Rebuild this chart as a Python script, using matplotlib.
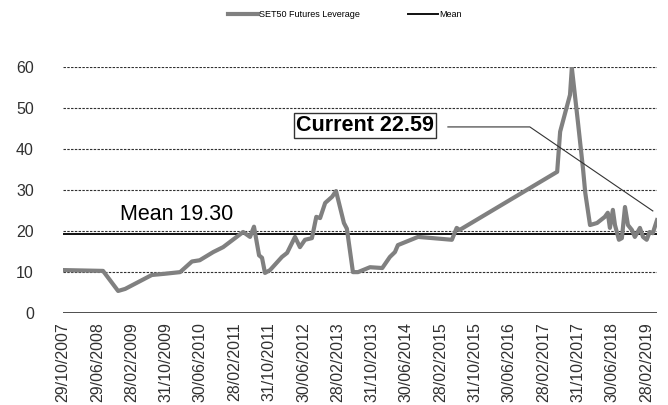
import matplotlib
matplotlib.use("Agg")
import matplotlib.pyplot as plt
import matplotlib.dates as mdates
import pandas as pd

plt.rcParams['font.family'] = ['Liberation Sans', 'DejaVu Sans']

dates = [
    "2007-10-29", "2008-08-08", "2008-11-23", "2009-01-12", "2009-07-20", "2009-10-20",
    "2010-02-06", "2010-05-01", "2010-06-25", "2010-09-29", "2010-12-08", "2011-04-29",
    "2011-06-17", "2011-07-15", "2011-08-20", "2011-09-10", "2011-10-01", "2011-11-06",
    "2012-01-29", "2012-03-06", "2012-05-01", "2012-06-05", "2012-07-11", "2012-08-29",
    "2012-09-29", "2012-10-26", "2012-12-01", "2013-01-19", "2013-02-16", "2013-04-13",
    "2013-05-04", "2013-06-16", "2013-07-22", "2013-10-15", "2014-01-10", "2014-03-05",
    "2014-04-10", "2014-05-01", "2014-09-21", "2015-01-04", "2015-05-19", "2015-06-22",
    "2015-07-13", "2017-06-04", "2017-06-25", "2017-09-03", "2017-09-16", "2017-10-29",
    "2017-12-05", "2017-12-20", "2018-01-23", "2018-03-14", "2018-05-08", "2018-05-29",
    "2018-06-13", "2018-07-04", "2018-07-19", "2018-08-16", "2018-09-06", "2018-09-28",
    "2018-10-19", "2018-11-16", "2018-12-07", "2018-12-22", "2019-01-12", "2019-02-03",
    "2019-03-01", "2019-03-22", "2019-04-13", "2019-05-13",
]
leverage = [
    10.4, 10.2, 5.3, 5.8, 9.2, 9.5,
    9.9, 12.5, 12.8, 14.8, 16.0, 19.7,
    18.5, 21.0, 14.0, 13.4, 9.7, 10.4,
    13.6, 14.6, 18.5, 16.0, 17.8, 18.2,
    23.4, 23.1, 26.8, 28.3, 29.7, 21.9,
    20.5, 9.9, 9.9, 11.1, 10.9, 13.6,
    14.8, 16.5, 18.5, 18.2, 17.8, 20.7,
    20.2, 34.4, 44.2, 53.2, 59.8, 46.6,
    34.9, 29.3, 21.4, 21.9, 23.4, 24.4,
    20.7, 25.1, 21.4, 17.8, 18.2, 25.8,
    21.4, 20.2, 18.5, 19.4, 20.7, 18.5,
    17.8, 19.7, 19.4, 22.59,
]
mean_value = 19.30
current_value = 22.59

tick_dates = ["2007-10-29", "2008-06-29", "2009-02-28", "2009-10-31", "2010-06-30",
              "2011-02-28", "2011-10-31", "2012-06-30", "2013-02-28", "2013-10-31",
              "2014-06-30", "2015-02-28", "2015-10-31", "2016-06-30", "2017-02-28",
              "2017-10-31", "2018-06-30", "2019-02-28"]
tick_labels = ["29/10/2007", "29/06/2008", "28/02/2009", "31/10/2009", "30/06/2010",
               "28/02/2011", "31/10/2011", "30/06/2012", "28/02/2013", "31/10/2013",
               "30/06/2014", "28/02/2015", "31/10/2015", "30/06/2016", "28/02/2017",
               "31/10/2017", "30/06/2018", "28/02/2019"]
y_ticks = [0, 10, 20, 30, 40, 50, 60]

x = pd.to_datetime(dates)
xt = pd.to_datetime(tick_dates)

fig = plt.figure(figsize=(6.68, 4.05), dpi=100)
ax = fig.add_axes([0.0943, 0.228, 0.8892, 0.6066])

for v in y_ticks[1:]:
    ax.axhline(v, color='#303030', lw=0.8, dashes=(2.2, 1.2), zorder=1)
ax.axhline(0, color='#303030', lw=1.2, zorder=1)

line_lev, = ax.plot(x, leverage, color='#808080', lw=3.0, solid_joinstyle='round',
                    zorder=3, label='SET50 Futures Leverage')
line_mean = ax.axhline(mean_value, color='#111111', lw=1.4, zorder=2, label='Mean')

ax.set_xlim(x[0], x[-1])
ax.set_ylim(0, 60)
ax.set_yticks(y_ticks)
ax.set_xticks(xt)
ax.set_xticklabels(tick_labels, rotation=90, fontsize=11.5, color='#303030')
ax.tick_params(axis='x', length=0, pad=7)
ax.tick_params(axis='y', length=0, pad=21, labelsize=11.5, labelcolor='#303030')
for s in ax.spines.values():
    s.set_visible(False)

ax.text(0.096, 0.377, f"Mean {mean_value:.2f}", transform=ax.transAxes,
        fontsize=15.5, color='black', va='baseline', ha='left')
ax.text(0.508, 0.762, f"Current {current_value:.2f}", transform=ax.transAxes,
        fontsize=15.5, fontweight='bold', color='black', va='center', ha='center',
        bbox=dict(boxstyle='square,pad=0.1', fc='white', ec='#333333', lw=1.0), zorder=5)
ax.plot([0.648, 0.786, 0.993], [0.756, 0.756, 0.414], transform=ax.transAxes,
        color='#333333', lw=0.8, zorder=4, clip_on=False)

fig.legend(handles=[line_lev, line_mean], loc='center', bbox_to_anchor=(0.516, 0.963),
           ncol=2, frameon=False, fontsize=6.5, handlelength=3.3, handletextpad=0.1,
           columnspacing=5.4)

fig.savefig("out.png", dpi=100)
